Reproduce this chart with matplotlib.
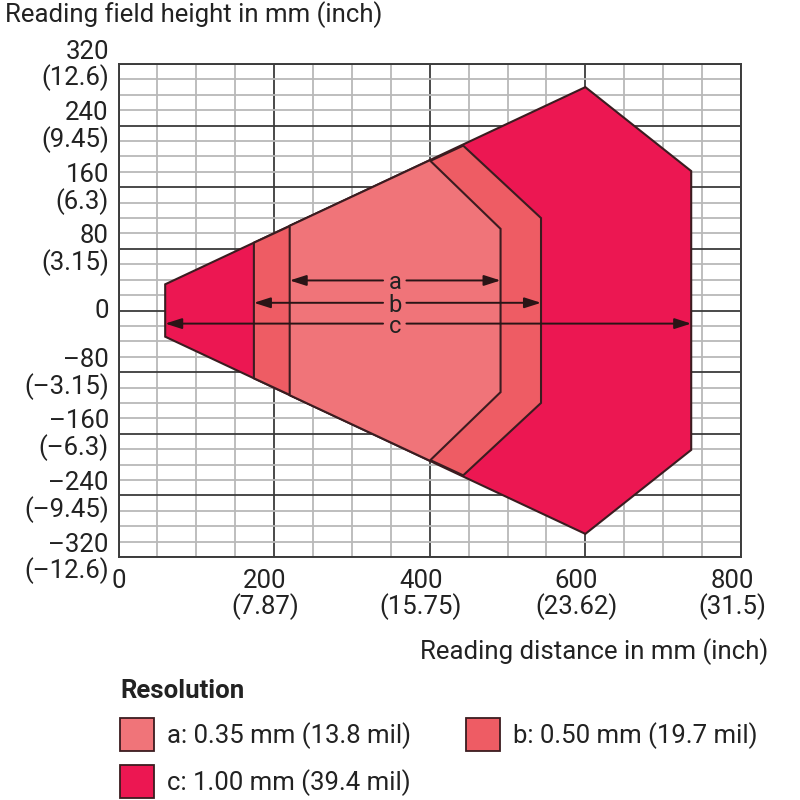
import matplotlib
matplotlib.use("Agg")
import matplotlib.pyplot as plt
from matplotlib.patches import Polygon, Rectangle
from matplotlib.ticker import MultipleLocator
from matplotlib.transforms import ScaledTranslation

plt.rcParams['font.family'] = ['Roboto', 'DejaVu Sans']

# Reading field outlines: (distance mm, field height mm)
zone_a_dist = [220, 400, 491, 491, 400, 220]
zone_a_height = [110, 195, 106, -106, -195, -110]
zone_b_dist = [174, 443, 543, 543, 443, 174]
zone_b_height = [88, 214, 120, -120, -214, -88]
zone_c_dist = [60, 600, 736, 736, 600, 60]
zone_c_height = [34, 290, 181, -181, -290, -34]

# Reading range arrows: (label, start, end, height)
range_labels = ['a', 'b', 'c']
range_start = [220, 174, 60]
range_end = [491, 543, 736]
range_height = [39, 10, -17]

x_ticks = [0, 200, 400, 600, 800]
x_tick_labels = ['0', '200\n(7.87)', '400\n(15.75)', '600\n(23.62)', '800\n(31.5)']
y_ticks = [320, 240, 160, 80, 0, -80, -160, -240, -320]
y_tick_labels = ['320\n(12.6)', '240\n(9.45)', '160\n(6.3)', '80\n(3.15)', '0',
                 '\u201380\n(\u20133.15)', '\u2013160\n(\u20136.3)',
                 '\u2013240\n(\u20139.45)', '\u2013320\n(\u201312.6)']

legend_labels = ['a: 0.35 mm (13.8 mil)', 'b: 0.50 mm (19.7 mil)', 'c: 1.00 mm (39.4 mil)']
colors = ['#F07479', '#EE5C64', '#EC1752']
edge = '#3b1c20'
text_col = '#222222'
fs = 18.5

fig = plt.figure(figsize=(8, 8), dpi=100)
ax = fig.add_axes([118.5 / 800, 1 - 557 / 800, (741 - 118.5) / 800, (557 - 64) / 800])
ax.set_xlim(0, 800)
ax.set_ylim(-320, 320)

# grid
ax.xaxis.set_minor_locator(MultipleLocator(50))
ax.yaxis.set_minor_locator(MultipleLocator(20))
ax.set_xticks(x_ticks)
ax.set_yticks(y_ticks)
ax.grid(which='minor', color='#b9b9b9', lw=1.3)
ax.grid(which='major', color='#3c3c3c', lw=1.3)
ax.set_axisbelow(True)
for s in ax.spines.values():
    s.set_color('#3c3c3c')
    s.set_linewidth(1.4)
ax.tick_params(which='both', length=0, labelsize=fs, colors=text_col)
ax.set_xticklabels(x_tick_labels, linespacing=1.0)
ax.set_yticklabels(y_tick_labels, linespacing=1.05, ha='right')
ax.tick_params(axis='x', pad=9)
ax.tick_params(axis='y', pad=7)

# nudge the two-line distance labels slightly left, and height labels up
shift_left = ScaledTranslation(-9 / 100, 0, fig.dpi_scale_trans)
for lbl in ax.get_xticklabels()[1:]:
    lbl.set_transform(lbl.get_transform() + shift_left)
shift_up = ScaledTranslation(0, 2 / 100, fig.dpi_scale_trans)
for lbl in ax.get_yticklabels():
    lbl.set_transform(lbl.get_transform() + shift_up)

# fields
for xs, ys, col in [(zone_c_dist, zone_c_height, colors[2]),
                    (zone_b_dist, zone_b_height, colors[1]),
                    (zone_a_dist, zone_a_height, colors[0])]:
    ax.add_patch(Polygon(list(zip(xs, ys)), closed=True, facecolor=col,
                         edgecolor=edge, lw=1.5, zorder=3))

# range arrows
label_x = 355
gap = 15
arrow_kw = dict(arrowstyle='-|>,head_length=1.0,head_width=0.32', color='#2a1416', lw=1.4,
                shrinkA=0, shrinkB=0)
for lab, x0, x1, y in zip(range_labels, range_start, range_end, range_height):
    ax.annotate('', xy=(x0, y), xytext=(label_x - gap, y), arrowprops=arrow_kw, zorder=5)
    ax.annotate('', xy=(x1, y), xytext=(label_x + gap, y), arrowprops=arrow_kw, zorder=5)
    ax.text(label_x, y, lab, ha='center', va='center_baseline', fontsize=17,
            color=text_col, zorder=6)

# titles
fig.text(5 / 800, 1 - 15 / 800, 'Reading field height in mm (inch)', fontsize=fs,
         color=text_col, ha='left', va='center')
fig.text(768 / 800, 1 - 652 / 800, 'Reading distance in mm (inch)', fontsize=fs,
         color=text_col, ha='right', va='center')

# legend
fig.text(120 / 800, 1 - 691 / 800, 'Resolution', fontsize=fs, fontweight='bold',
         color=text_col, ha='left', va='center')
legend_pos = [(120, 734), (466, 734), (120, 781)]
for (px, py), lab, col in zip(legend_pos, legend_labels, colors):
    fig.patches.append(Rectangle((px / 800, 1 - (py + 16.5) / 800), 34 / 800, 33 / 800,
                                 transform=fig.transFigure, facecolor=col,
                                 edgecolor=edge, lw=1.3))
    fig.text((px + 47) / 800, 1 - (py + 2) / 800, lab, fontsize=fs, color=text_col,
             ha='left', va='center')

fig.savefig('out.png', dpi=100)
